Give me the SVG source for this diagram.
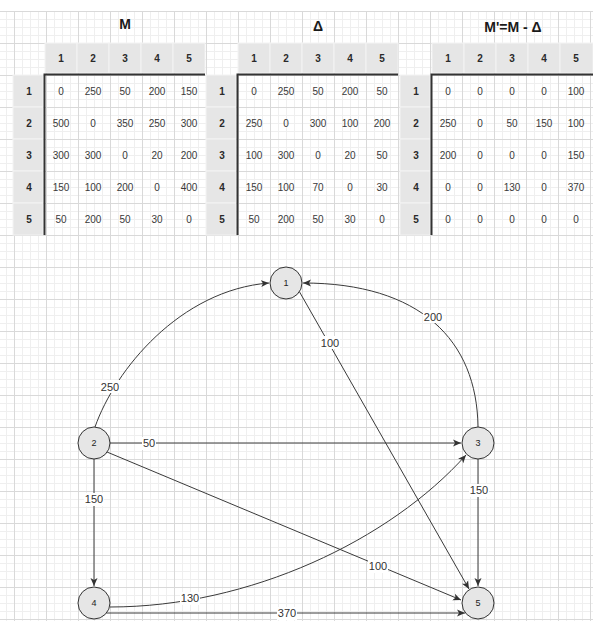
<svg xmlns="http://www.w3.org/2000/svg" width="593" height="621" viewBox="0 0 593 621">
<style>
.t{font-family:"Liberation Sans",Arial,sans-serif;font-size:10px;fill:#3a3a3a;text-anchor:middle}
.h{font-family:"Liberation Sans",Arial,sans-serif;font-size:10px;font-weight:bold;fill:#2a2a2a;text-anchor:middle}
.ttl{font-family:"Liberation Sans",Arial,sans-serif;font-size:14px;font-weight:bold;fill:#1a1a1a;text-anchor:middle}
.g{fill:#e6e6e6;stroke:#f3f3f3;stroke-width:1}
.thick{fill:none;stroke:#333;stroke-width:2}
.node circle{fill:#e6e6e6;stroke:#333;stroke-width:1}
.nl{font-family:"Liberation Sans",Arial,sans-serif;font-size:9px;fill:#222;text-anchor:middle}
.e{fill:none;stroke:#3a3a3a;stroke-width:1;marker-end:url(#arr)}
.lb{fill:#fff}
.el{font-family:"Liberation Sans",Arial,sans-serif;font-size:11px;fill:#333;text-anchor:middle}
</style>
<defs>
<pattern id="grid" patternUnits="userSpaceOnUse" x="14" y="11" width="32" height="32">
<rect width="32" height="32" fill="#fff"/>
<path d="M8.5 0V32M16.5 0V32M24.5 0V32M0 8.5H32M0 16.5H32M0 24.5H32" stroke="#efefef" stroke-width="1"/>
<path d="M0.5 0V32M0 0.5H32" stroke="#d9d9d9" stroke-width="1"/>
</pattern>
<marker id="arr" markerUnits="userSpaceOnUse" markerWidth="9" markerHeight="8" refX="8" refY="4" orient="auto">
<path d="M0,0.5 L8,4 L0,7.5 L2,4 z" fill="#333"/>
</marker>
</defs>
<rect width="593" height="621" fill="#fff"/>
<rect x="0" y="11" width="593" height="610" fill="url(#grid)"/>

<g id="table-M">
<text class="ttl" x="125" y="29">M</text>
<rect class="g" x="45" y="43" width="32" height="30"/><rect class="g" x="77" y="43" width="32" height="30"/><rect class="g" x="109" y="43" width="32" height="30"/><rect class="g" x="141" y="43" width="32" height="30"/><rect class="g" x="173" y="43" width="32" height="30"/>
<rect class="g" x="13" y="75" width="30" height="32"/><rect class="g" x="13" y="107" width="30" height="32"/><rect class="g" x="13" y="139" width="30" height="32"/><rect class="g" x="13" y="171" width="30" height="32"/><rect class="g" x="13" y="203" width="30" height="32"/>
<path class="thick" d="M44.5 235V74.5H205"/>
<text class="h" x="61" y="61.5">1</text><text class="h" x="93" y="61.5">2</text><text class="h" x="125" y="61.5">3</text><text class="h" x="157" y="61.5">4</text><text class="h" x="189" y="61.5">5</text>
<text class="h" x="29" y="94.5">1</text><text class="h" x="29" y="126.5">2</text><text class="h" x="29" y="158.5">3</text><text class="h" x="29" y="190.5">4</text><text class="h" x="29" y="222.5">5</text>
<text class="t" x="61" y="94.5">0</text><text class="t" x="93" y="94.5">250</text><text class="t" x="125" y="94.5">50</text><text class="t" x="157" y="94.5">200</text><text class="t" x="189" y="94.5">150</text>
<text class="t" x="61" y="126.5">500</text><text class="t" x="93" y="126.5">0</text><text class="t" x="125" y="126.5">350</text><text class="t" x="157" y="126.5">250</text><text class="t" x="189" y="126.5">300</text>
<text class="t" x="61" y="158.5">300</text><text class="t" x="93" y="158.5">300</text><text class="t" x="125" y="158.5">0</text><text class="t" x="157" y="158.5">20</text><text class="t" x="189" y="158.5">200</text>
<text class="t" x="61" y="190.5">150</text><text class="t" x="93" y="190.5">100</text><text class="t" x="125" y="190.5">200</text><text class="t" x="157" y="190.5">0</text><text class="t" x="189" y="190.5">400</text>
<text class="t" x="61" y="222.5">50</text><text class="t" x="93" y="222.5">200</text><text class="t" x="125" y="222.5">50</text><text class="t" x="157" y="222.5">30</text><text class="t" x="189" y="222.5">0</text>
</g>

<g id="table-Delta">
<text class="ttl" x="318" y="31">Δ</text>
<rect class="g" x="238" y="43" width="32" height="30"/><rect class="g" x="270" y="43" width="32" height="30"/><rect class="g" x="302" y="43" width="32" height="30"/><rect class="g" x="334" y="43" width="32" height="30"/><rect class="g" x="366" y="43" width="32" height="30"/>
<rect class="g" x="206" y="75" width="30" height="32"/><rect class="g" x="206" y="107" width="30" height="32"/><rect class="g" x="206" y="139" width="30" height="32"/><rect class="g" x="206" y="171" width="30" height="32"/><rect class="g" x="206" y="203" width="30" height="32"/>
<path class="thick" d="M237.5 235V74.5H398"/>
<text class="h" x="254" y="61.5">1</text><text class="h" x="286" y="61.5">2</text><text class="h" x="318" y="61.5">3</text><text class="h" x="350" y="61.5">4</text><text class="h" x="382" y="61.5">5</text>
<text class="h" x="222" y="94.5">1</text><text class="h" x="222" y="126.5">2</text><text class="h" x="222" y="158.5">3</text><text class="h" x="222" y="190.5">4</text><text class="h" x="222" y="222.5">5</text>
<text class="t" x="254" y="94.5">0</text><text class="t" x="286" y="94.5">250</text><text class="t" x="318" y="94.5">50</text><text class="t" x="350" y="94.5">200</text><text class="t" x="382" y="94.5">50</text>
<text class="t" x="254" y="126.5">250</text><text class="t" x="286" y="126.5">0</text><text class="t" x="318" y="126.5">300</text><text class="t" x="350" y="126.5">100</text><text class="t" x="382" y="126.5">200</text>
<text class="t" x="254" y="158.5">100</text><text class="t" x="286" y="158.5">300</text><text class="t" x="318" y="158.5">0</text><text class="t" x="350" y="158.5">20</text><text class="t" x="382" y="158.5">50</text>
<text class="t" x="254" y="190.5">150</text><text class="t" x="286" y="190.5">100</text><text class="t" x="318" y="190.5">70</text><text class="t" x="350" y="190.5">0</text><text class="t" x="382" y="190.5">30</text>
<text class="t" x="254" y="222.5">50</text><text class="t" x="286" y="222.5">200</text><text class="t" x="318" y="222.5">50</text><text class="t" x="350" y="222.5">30</text><text class="t" x="382" y="222.5">0</text>
</g>

<g id="table-Mprime">
<text class="ttl" x="513" y="32">M'=M - Δ</text>
<rect class="g" x="432" y="43" width="32" height="30"/><rect class="g" x="464" y="43" width="32" height="30"/><rect class="g" x="496" y="43" width="32" height="30"/><rect class="g" x="528" y="43" width="32" height="30"/><rect class="g" x="560" y="43" width="33" height="30"/>
<rect class="g" x="400" y="75" width="30" height="32"/><rect class="g" x="400" y="107" width="30" height="32"/><rect class="g" x="400" y="139" width="30" height="32"/><rect class="g" x="400" y="171" width="30" height="32"/><rect class="g" x="400" y="203" width="30" height="32"/>
<path class="thick" d="M431.5 235V74.5H593"/>
<text class="h" x="448" y="61.5">1</text><text class="h" x="480" y="61.5">2</text><text class="h" x="512" y="61.5">3</text><text class="h" x="544" y="61.5">4</text><text class="h" x="576" y="61.5">5</text>
<text class="h" x="416" y="94.5">1</text><text class="h" x="416" y="126.5">2</text><text class="h" x="416" y="158.5">3</text><text class="h" x="416" y="190.5">4</text><text class="h" x="416" y="222.5">5</text>
<text class="t" x="448" y="94.5">0</text><text class="t" x="480" y="94.5">0</text><text class="t" x="512" y="94.5">0</text><text class="t" x="544" y="94.5">0</text><text class="t" x="576" y="94.5">100</text>
<text class="t" x="448" y="126.5">250</text><text class="t" x="480" y="126.5">0</text><text class="t" x="512" y="126.5">50</text><text class="t" x="544" y="126.5">150</text><text class="t" x="576" y="126.5">100</text>
<text class="t" x="448" y="158.5">200</text><text class="t" x="480" y="158.5">0</text><text class="t" x="512" y="158.5">0</text><text class="t" x="544" y="158.5">0</text><text class="t" x="576" y="158.5">150</text>
<text class="t" x="448" y="190.5">0</text><text class="t" x="480" y="190.5">0</text><text class="t" x="512" y="190.5">130</text><text class="t" x="544" y="190.5">0</text><text class="t" x="576" y="190.5">370</text>
<text class="t" x="448" y="222.5">0</text><text class="t" x="480" y="222.5">0</text><text class="t" x="512" y="222.5">0</text><text class="t" x="544" y="222.5">0</text><text class="t" x="576" y="222.5">0</text>
</g>

<g id="connectors">
<path class="e" d="M95 427C115 370 180 290 269 283"/>
<path class="e" d="M478 427C477 340 420 283 303 283"/>
<path class="e" d="M299 291L469 589"/>
<path class="e" d="M110 443H461"/>
<path class="e" d="M94 459V586"/>
<path class="e" d="M107 452L461 600"/>
<path class="e" d="M110 607C250 607 390 540 466 455"/>
<path class="e" d="M106.5 613H465"/>
<path class="e" d="M478 459V586"/>
<g id="edge-labels">
<rect class="lb" x="100" y="380" width="20" height="13"/><text class="el" x="110" y="390.5">250</text>
<rect class="lb" x="423" y="310" width="20" height="13"/><text class="el" x="433" y="320.5">200</text>
<rect class="lb" x="320" y="336" width="20" height="13"/><text class="el" x="330" y="346.5">100</text>
<rect class="lb" x="142" y="437" width="14" height="13"/><text class="el" x="149" y="447">50</text>
<rect class="lb" x="84" y="493" width="20" height="13"/><text class="el" x="94" y="503">150</text>
<rect class="lb" x="469" y="484" width="20" height="13"/><text class="el" x="479" y="494">150</text>
<rect class="lb" x="368" y="560" width="20" height="13"/><text class="el" x="378" y="570">100</text>
<rect class="lb" x="180" y="592" width="20" height="13"/><text class="el" x="190" y="602">130</text>
<rect class="lb" x="277" y="607" width="20" height="13"/><text class="el" x="287" y="617">370</text>
</g>
</g>

<g id="node-1" class="node"><circle cx="286" cy="283" r="16"/><text class="nl" x="286" y="286">1</text></g>
<g id="node-2" class="node"><circle cx="94" cy="443" r="16"/><text class="nl" x="94" y="446">2</text></g>
<g id="node-3" class="node"><circle cx="478" cy="443" r="16"/><text class="nl" x="478" y="446">3</text></g>
<g id="node-4" class="node"><circle cx="94" cy="603" r="16"/><text class="nl" x="94" y="606">4</text></g>
<g id="node-5" class="node"><circle cx="478" cy="603" r="16"/><text class="nl" x="478" y="606">5</text></g>
</svg>
